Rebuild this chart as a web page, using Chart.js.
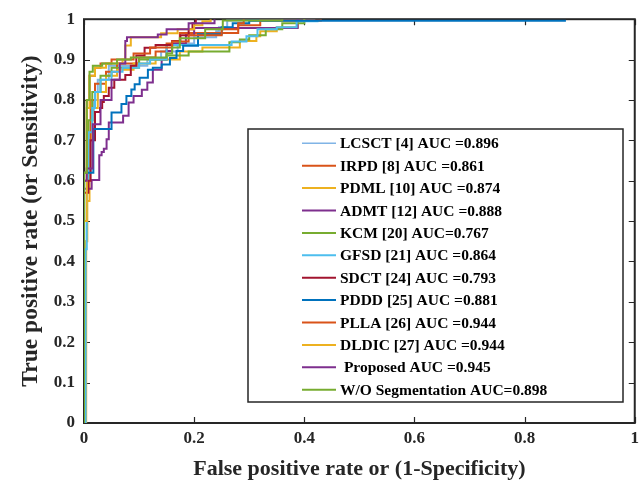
<!DOCTYPE html>
<html>
<head>
<meta charset="utf-8">
<script src="https://cdn.jsdelivr.net/npm/chart.js@4.4.1/dist/chart.umd.min.js"></script>
<style>
html, body { margin: 0; padding: 0; background: #fff; }
#wrap { width: 644px; height: 484px; }
</style>
</head>
<body>
<div id="wrap"><canvas id="roc" width="644" height="484"></canvas></div>
<script>
// tick values + labels
const xTicks = [0, 0.2, 0.4, 0.6, 0.8, 1];
const xTickLabels = ['0', '0.2', '0.4', '0.6', '0.8', '1'];
const yTicks = [0, 0.1, 0.2, 0.3, 0.4, 0.5, 0.6, 0.7, 0.8, 0.9, 1];
const yTickLabels = ['0', '0.1', '0.2', '0.3', '0.4', '0.5', '0.6', '0.7', '0.8', '0.9', '1'];

const names = [
  'LCSCT [4] AUC =0.896',
  'IRPD [8] AUC =0.861',
  'PDML [10] AUC =0.874',
  'ADMT [12] AUC =0.888',
  'KCM [20] AUC=0.767',
  'GFSD [21] AUC =0.864',
  'SDCT [24] AUC =0.793',
  'PDDD [25] AUC =0.881',
  'PLLA [26] AUC =0.944',
  'DLDIC [27] AUC =0.944',
  ' Proposed AUC =0.945',
  'W/O Segmentation AUC=0.898'
];
const colors = ['#80b4e6', '#d95319', '#edb120', '#7e2f8e', '#77ac30', '#4dbeee',
                '#a2142f', '#0072bd', '#d95319', '#edb120', '#7e2f8e', '#77ac30'];

// ROC curves (false positive rate / true positive rate)
const fprLCSCT = [0, 0.002, 0.005, 0.012, 0.018, 0.025, 0.045, 0.115, 0.14, 0.17, 0.2, 0.24, 0.245, 0.26, 0.42];
const tprLCSCT = [0, 0.45, 0.62, 0.75, 0.8, 0.85, 0.885, 0.9, 0.92, 0.94, 0.955, 0.97, 0.98, 0.997, 0.997];

const fprIRPD = [0, 0, 0.006, 0.012, 0.02, 0.04, 0.06, 0.1, 0.13, 0.15, 0.174, 0.28, 0.32, 0.43];
const tprIRPD = [0, 0.6, 0.7, 0.8, 0.84, 0.87, 0.89, 0.905, 0.92, 0.94, 0.966, 0.985, 0.997, 1.0];

const fprPDML = [0, 0.004, 0.006, 0.01, 0.015, 0.025, 0.04, 0.06, 0.09, 0.13, 0.174, 0.215, 0.283, 0.313, 0.32, 0.35, 0.388, 0.4];
const tprPDML = [0, 0.45, 0.55, 0.7, 0.78, 0.82, 0.86, 0.875, 0.89, 0.9, 0.92, 0.93, 0.946, 0.958, 0.97, 0.98, 0.995, 1.0];

const fprADMT = [0, 0, 0.0139, 0.0277, 0.032, 0.036, 0.041, 0.045, 0.071, 0.081, 0.09, 0.105, 0.115, 0.125, 0.141, 0.15, 0.16, 0.185, 0.2, 0.388];
const tprADMT = [0, 0.58, 0.602, 0.663, 0.671, 0.679, 0.703, 0.744, 0.761, 0.794, 0.81, 0.825, 0.843, 0.875, 0.9, 0.921, 0.94, 0.96, 0.978, 1.0];

const fprKCM = [0, 0, 0.008, 0.015, 0.03, 0.05, 0.1, 0.15, 0.19, 0.264, 0.283, 0.3, 0.33, 0.36, 0.4];
const tprKCM = [0, 0.62, 0.75, 0.82, 0.86, 0.88, 0.9, 0.91, 0.92, 0.943, 0.95, 0.96, 0.975, 0.99, 1.0];

const fprGFSD = [0, 0.003, 0.005, 0.008, 0.015, 0.02, 0.03, 0.05, 0.07, 0.1, 0.12, 0.15, 0.268, 0.295, 0.315, 0.35, 0.386, 0.424];
const tprGFSD = [0, 0.43, 0.6, 0.72, 0.78, 0.82, 0.85, 0.87, 0.88, 0.89, 0.9, 0.936, 0.945, 0.958, 0.975, 0.98, 0.995, 0.997];

const fprSDCT = [0, 0, 0.008, 0.012, 0.02, 0.029, 0.033, 0.036, 0.045, 0.055, 0.075, 0.085, 0.095, 0.11, 0.13, 0.16, 0.175, 0.19, 0.197, 0.203];
const tprSDCT = [0, 0.57, 0.6, 0.7, 0.77, 0.78, 0.795, 0.81, 0.83, 0.85, 0.862, 0.885, 0.91, 0.929, 0.936, 0.946, 0.96, 0.975, 0.99, 1.0];

const fprPDDD = [0, 0, 0.017, 0.05, 0.068, 0.077, 0.086, 0.092, 0.101, 0.116, 0.125, 0.141, 0.156, 0.168, 0.18, 0.207, 0.25, 0.27, 0.3, 0.875];
const tprPDDD = [0, 0.62, 0.728, 0.769, 0.79, 0.81, 0.826, 0.839, 0.855, 0.875, 0.88, 0.888, 0.904, 0.921, 0.934, 0.963, 0.98, 0.99, 0.996, 0.996];

const fprPLLA = [0, 0, 0.005, 0.01, 0.02, 0.03, 0.05, 0.09, 0.12, 0.16, 0.19, 0.25, 0.28, 0.29];
const tprPLLA = [0, 0.62, 0.8, 0.86, 0.88, 0.89, 0.9, 0.915, 0.93, 0.945, 0.96, 0.975, 0.99, 1.0];

const fprDLDIC = [0, 0, 0.005, 0.01, 0.02, 0.04, 0.07, 0.075, 0.085, 0.14, 0.17, 0.2, 0.215, 0.23];
const tprDLDIC = [0, 0.5, 0.78, 0.86, 0.88, 0.89, 0.9, 0.935, 0.955, 0.965, 0.975, 0.985, 0.995, 1.0];

const fprProposed = [0, 0, 0.005, 0.016, 0.03, 0.05, 0.065, 0.075, 0.078, 0.134, 0.15, 0.19, 0.237];
const tprProposed = [0, 0.6, 0.63, 0.74, 0.8, 0.85, 0.89, 0.946, 0.955, 0.962, 0.975, 0.99, 1.0];

const fprWOSeg = [0, 0, 0.005, 0.01, 0.016, 0.033, 0.06, 0.085, 0.15, 0.16, 0.174, 0.22, 0.252, 0.36];
const tprWOSeg = [0, 0.62, 0.8, 0.87, 0.885, 0.89, 0.9, 0.905, 0.915, 0.93, 0.953, 0.975, 0.997, 1.0];

const curves = [
  [fprLCSCT, tprLCSCT], [fprIRPD, tprIRPD], [fprPDML, tprPDML], [fprADMT, tprADMT],
  [fprKCM, tprKCM], [fprGFSD, tprGFSD], [fprSDCT, tprSDCT], [fprPDDD, tprPDDD],
  [fprPLLA, tprPLLA], [fprDLDIC, tprDLDIC], [fprProposed, tprProposed], [fprWOSeg, tprWOSeg]
];

const serif = '"Liberation Serif", "Times New Roman", serif';
const ink = '#262626';

// box round the plot with inward ticks, like matlab
const frame = {
  id: 'frame',
  beforeDatasetsDraw(chart) {
    const { ctx, chartArea: a, scales: { x, y } } = chart;
    ctx.save();
    ctx.strokeStyle = ink;
    ctx.lineWidth = 1.2;
    ctx.beginPath();
    xTicks.forEach(v => {
      const px = Math.round(x.getPixelForValue(v)) + 0.5;
      ctx.moveTo(px, a.bottom); ctx.lineTo(px, a.bottom - 6);
      ctx.moveTo(px, a.top); ctx.lineTo(px, a.top + 6);
    });
    yTicks.forEach(v => {
      const py = Math.round(y.getPixelForValue(v)) + 0.5;
      ctx.moveTo(a.left, py); ctx.lineTo(a.left + 6, py);
      ctx.moveTo(a.right, py); ctx.lineTo(a.right - 6, py);
    });
    ctx.stroke();
    ctx.lineWidth = 2;
    ctx.strokeRect(a.left, a.top, a.width, a.height);
    ctx.restore();
  }
};

// legend sits inside the axes, lower right
const boxLegend = {
  id: 'boxLegend',
  afterDraw(chart) {
    const ctx = chart.ctx;
    ctx.save();
    ctx.fillStyle = '#fff';
    ctx.fillRect(248, 129, 375, 273);
    ctx.strokeStyle = ink;
    ctx.lineWidth = 1.5;
    ctx.strokeRect(248, 129, 375, 273);
    ctx.font = 'bold 15.5px ' + serif;
    ctx.textBaseline = 'middle';
    chart.data.datasets.forEach((d, i) => {
      const yy = 143.3 + 22.4 * i;
      ctx.strokeStyle = d.borderColor;
      ctx.lineWidth = i === 0 ? 1.5 : 2;
      ctx.beginPath();
      ctx.moveTo(302, yy);
      ctx.lineTo(336, yy);
      ctx.stroke();
      ctx.fillStyle = '#000';
      ctx.fillText(d.label, 340, yy + 1);
    });
    ctx.restore();
  }
};

new Chart(document.getElementById('roc'), {
  type: 'line',
  data: {
    datasets: names.map((n, i) => ({
      label: n,
      data: curves[i][0].map((fx, k) => ({ x: fx, y: curves[i][1][k] })),
      borderColor: colors[i],
      borderWidth: 2,
      pointRadius: 0,
      fill: false,
      stepped: 'before',
      order: names.length - i
    }))
  },
  options: {
    responsive: false,
    devicePixelRatio: 1,
    animation: false,
    layout: { padding: { top: 16, right: 8, left: 0, bottom: 0 } },
    plugins: { legend: { display: false }, tooltip: { enabled: false } },
    scales: {
      x: {
        type: 'linear', min: 0, max: 1,
        afterBuildTicks: s => { s.ticks = xTicks.map(v => ({ value: v })); },
        afterFit: s => { s.height = 61; },
        grid: { display: false, drawTicks: false },
        border: { display: false },
        ticks: {
          callback: (v, i) => xTickLabels[i],
          font: { family: serif, size: 17, weight: 'bold' },
          color: ink, padding: 5, maxRotation: 0
        },
        title: {
          display: true, text: 'False positive rate or (1-Specificity)',
          font: { family: serif, size: 22, weight: 'bold' },
          color: ink, padding: { top: 0, bottom: 1 }
        }
      },
      y: {
        type: 'linear', min: 0, max: 1,
        afterBuildTicks: s => { s.ticks = yTicks.map(v => ({ value: v })); },
        afterFit: s => { s.width = 84; },
        grid: { display: false, drawTicks: false },
        border: { display: false },
        ticks: {
          callback: (v, i) => yTickLabels[i],
          font: { family: serif, size: 17, weight: 'bold' },
          color: ink, padding: 9
        },
        title: {
          display: true, text: 'True positive rate (or Sensitivity)',
          font: { family: serif, size: 23.5, weight: 'bold' },
          color: ink, padding: { top: 17, bottom: 0 }
        }
      }
    }
  },
  plugins: [frame, boxLegend]
});
</script>
</body>
</html>
